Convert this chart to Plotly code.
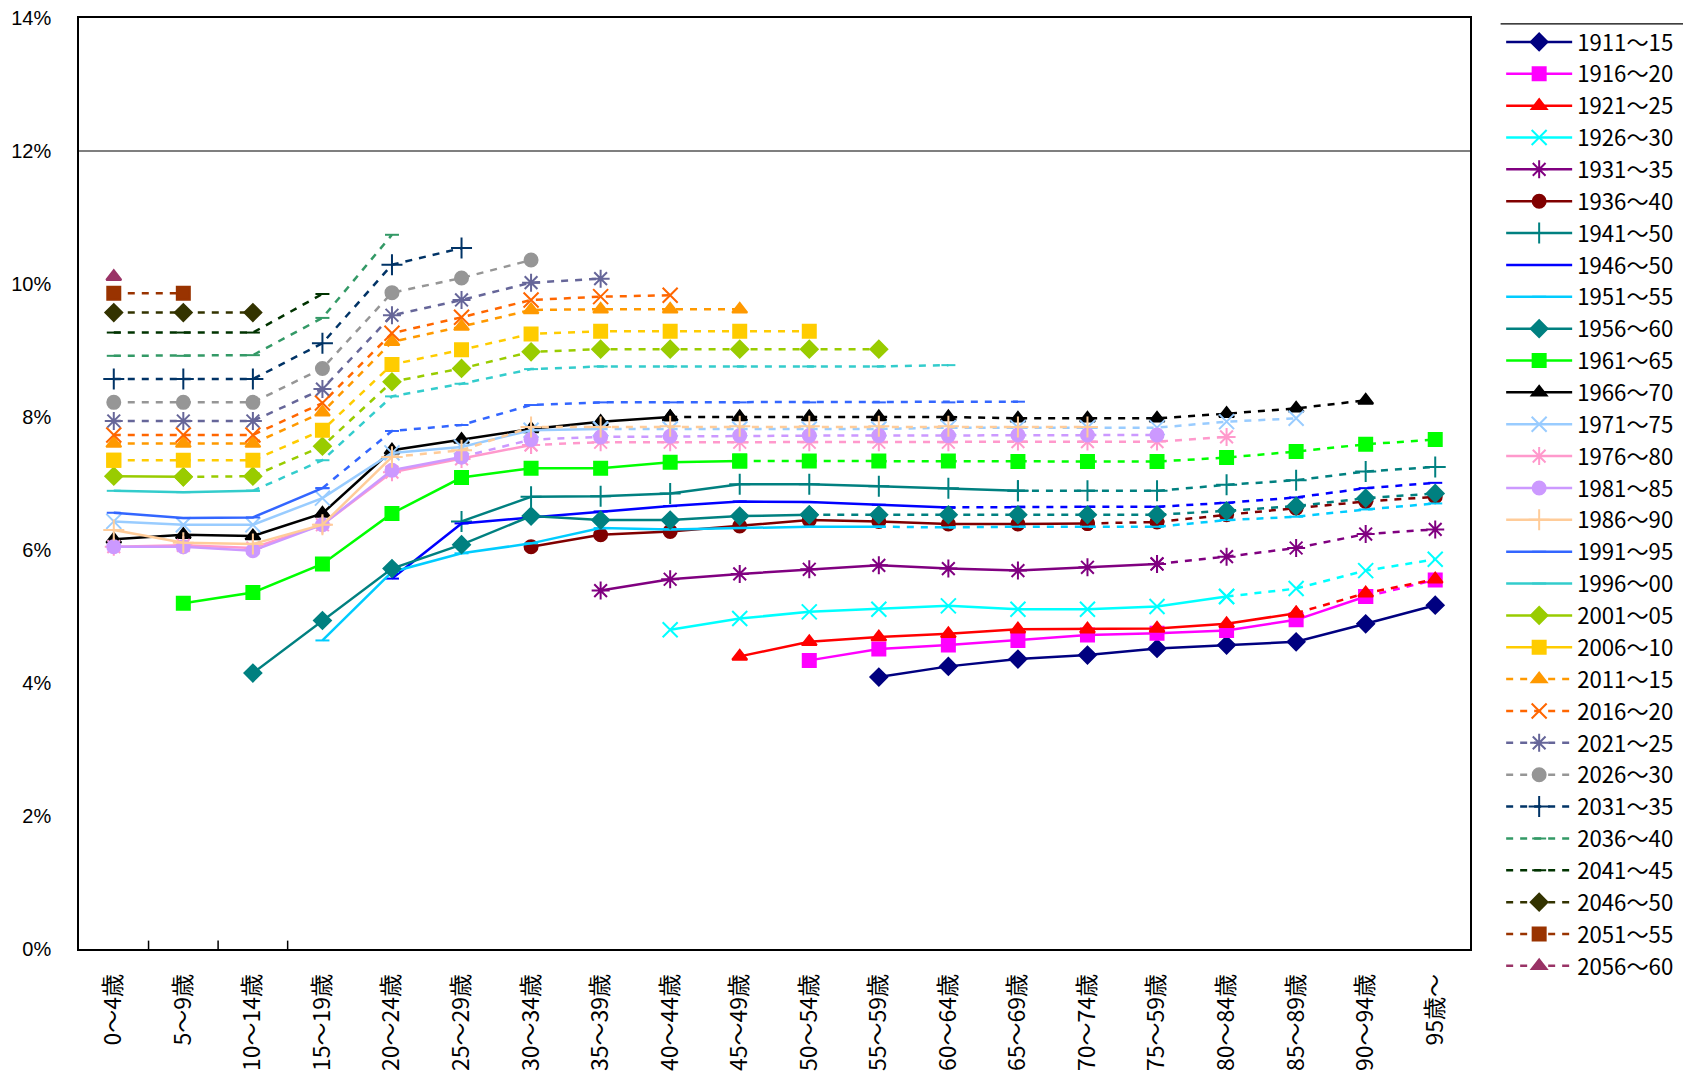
import plotly.graph_objects as go

age_labels = ["0～4歳", "5～9歳", "10～14歳", "15～19歳", "20～24歳", "25～29歳",
              "30～34歳", "35～39歳", "40～44歳", "45～49歳", "50～54歳", "55～59歳",
              "60～64歳", "65～69歳", "70～74歳", "75～59歳", "80～84歳", "85～89歳",
              "90～94歳", "95歳～"]

cohort_labels = ["1911～15", "1916～20", "1921～25", "1926～30", "1931～35", "1936～40",
                 "1941～50", "1946～50", "1951～55", "1956～60", "1961～65", "1966～70",
                 "1971～75", "1976～80", "1981～85", "1986～90", "1991～95", "1996～00",
                 "2001～05", "2006～10", "2011～15", "2016～20", "2021～25", "2026～30",
                 "2031～35", "2036～40", "2041～45", "2046～50", "2051～55", "2056～60"]

# index of the first age group of each cohort, and of the last observed one (-1 = projection only)
start_age = [11, 10, 9, 8, 7, 6, 5, 4, 3, 2, 1, 0, 0, 0, 0, 0, 0, 0, 0, 0,
             0, 0, 0, 0, 0, 0, 0, 0, 0, 0]
last_observed = [19, 18, 17, 16, 15, 14, 13, 12, 11, 10, 9, 8, 7, 6, 5, 4, 3, 2, 1, 0,
                 -1, -1, -1, -1, -1, -1, -1, -1, -1, -1]

# share (%) per age group, from the first age group of the cohort on
c1911 = [4.09, 4.25, 4.36, 4.42, 4.52, 4.57, 4.62, 4.89, 5.17]
c1916 = [4.34, 4.51, 4.57, 4.64, 4.72, 4.75, 4.79, 4.95, 5.30, 5.55]
c1921 = [4.40, 4.62, 4.69, 4.74, 4.81, 4.81, 4.82, 4.89, 5.05, 5.35, 5.56]
c1926 = [4.80, 4.97, 5.07, 5.11, 5.16, 5.11, 5.11, 5.15, 5.30, 5.42, 5.69, 5.86]
c1931 = [5.39, 5.56, 5.64, 5.71, 5.77, 5.72, 5.69, 5.74, 5.79, 5.90, 6.03, 6.24, 6.31]
c1936 = [6.05, 6.23, 6.28, 6.36, 6.45, 6.43, 6.39, 6.39, 6.40, 6.42, 6.53, 6.63, 6.73, 6.80]
c1941 = [6.43, 6.80, 6.81, 6.85, 6.99, 6.99, 6.96, 6.93, 6.89, 6.89, 6.89, 6.98, 7.05, 7.18, 7.25]
c1946 = [5.57, 6.40, 6.49, 6.58, 6.66, 6.73, 6.72, 6.68, 6.64, 6.65, 6.65, 6.65, 6.71, 6.79,
         6.93, 7.01]
c1951 = [4.64, 5.67, 5.95, 6.10, 6.33, 6.31, 6.33, 6.35, 6.35, 6.34, 6.35, 6.35, 6.35, 6.45,
         6.50, 6.61, 6.70]
c1956 = [4.15, 4.94, 5.72, 6.08, 6.51, 6.45, 6.45, 6.51, 6.53, 6.53, 6.53, 6.53, 6.53, 6.53,
         6.59, 6.66, 6.78, 6.85]
c1961 = [5.20, 5.36, 5.79, 6.55, 7.09, 7.23, 7.23, 7.32, 7.34, 7.34, 7.34, 7.34, 7.33, 7.33,
         7.33, 7.39, 7.48, 7.59, 7.66]
c1966 = [6.16, 6.23, 6.21, 6.55, 7.50, 7.66, 7.82, 7.93, 8.00, 8.00, 8.00, 8.00, 8.00, 7.98,
         7.98, 7.98, 8.05, 8.13, 8.25]
c1971 = [6.43, 6.38, 6.38, 6.78, 7.46, 7.55, 7.80, 7.82, 7.82, 7.82, 7.82, 7.82, 7.84, 7.84,
         7.84, 7.84, 7.93, 7.98]
c1976 = [6.05, 6.07, 6.03, 6.38, 7.17, 7.37, 7.58, 7.62, 7.62, 7.62, 7.62, 7.62, 7.62, 7.63,
         7.63, 7.63, 7.70]
c1981 = [6.05, 6.05, 5.99, 6.38, 7.20, 7.40, 7.66, 7.70, 7.71, 7.72, 7.72, 7.72, 7.72, 7.73,
         7.73, 7.73]
c1986 = [6.30, 6.11, 6.09, 6.38, 7.40, 7.50, 7.85, 7.85, 7.86, 7.86, 7.86, 7.86, 7.86, 7.85, 7.85]
c1991 = [6.56, 6.48, 6.49, 6.93, 7.79, 7.88, 8.18, 8.22, 8.22, 8.22, 8.22, 8.22, 8.22, 8.23]
c1996 = [6.89, 6.87, 6.89, 7.35, 8.31, 8.50, 8.72, 8.76, 8.76, 8.76, 8.76, 8.76, 8.78]
c2001 = [7.11, 7.10, 7.11, 7.56, 8.53, 8.73, 8.98, 9.02, 9.02, 9.02, 9.02, 9.02]
c2006 = [7.35, 7.35, 7.35, 7.80, 8.79, 9.01, 9.25, 9.29, 9.29, 9.29, 9.29]
c2011 = [7.60, 7.60, 7.60, 8.07, 9.13, 9.36, 9.61, 9.62, 9.62, 9.62]
c2016 = [7.73, 7.73, 7.73, 8.21, 9.26, 9.50, 9.76, 9.81, 9.83]
c2021 = [7.94, 7.94, 7.94, 8.42, 9.53, 9.76, 10.02, 10.08]
c2026 = [8.22, 8.22, 8.22, 8.73, 9.87, 10.09, 10.36]
c2031 = [8.57, 8.57, 8.57, 9.11, 10.29, 10.54]
c2036 = [8.92, 8.92, 8.93, 9.49, 10.74]
c2041 = [9.27, 9.27, 9.27, 9.85]
c2046 = [9.57, 9.57, 9.57]
c2051 = [9.86, 9.86]
c2056 = [10.11]

cohort_values = [c1911, c1916, c1921, c1926, c1931, c1936, c1941, c1946, c1951, c1956,
                 c1961, c1966, c1971, c1976, c1981, c1986, c1991, c1996, c2001, c2006,
                 c2011, c2016, c2021, c2026, c2031, c2036, c2041, c2046, c2051, c2056]

colors = ["#000080", "#FF00FF", "#FF0000", "#00FFFF", "#800080", "#800000", "#008080",
          "#0000FF", "#00CCFF", "#008080", "#00FF00", "#000000", "#99CCFF", "#FF99CC",
          "#CC99FF", "#FFCC99", "#3366FF", "#33CCCC", "#99CC00", "#FFCC00", "#FF9900",
          "#FF6600", "#666699", "#969696", "#003366", "#339966", "#003300", "#333300",
          "#993300", "#993366"]

symbol_cycle = ["diamond", "square", "triangle-up", "x-thin-open", "asterisk-open", "circle",
                "cross-thin-open", "line-ew-open", "line-ew-open"]

fig = go.Figure()

for i, label in enumerate(cohort_labels):
    vals = cohort_values[i]
    xs = age_labels[start_age[i]:start_age[i] + len(vals)]
    k = last_observed[i] - start_age[i]
    sym = symbol_cycle[i % 9]
    col = colors[i]
    size = 13
    if sym.startswith("line"):
        size = 10
    elif sym in ("x-thin-open", "asterisk-open", "cross-thin-open"):
        size = 15
    marker = dict(symbol=sym, size=size, color=col, line=dict(color=col, width=2))
    if k >= 0:
        fig.add_trace(go.Scatter(
            x=xs[:k + 1], y=vals[:k + 1], name=label, legendgroup=label,
            mode="lines+markers", line=dict(color=col, width=2.5), marker=marker))
    if k < len(vals) - 1:
        j = max(k, 0)
        fig.add_trace(go.Scatter(
            x=xs[j:], y=vals[j:], name=label, legendgroup=label, showlegend=k < 0,
            mode="lines+markers", line=dict(color=col, width=2.5, dash="7px,7px"),
            marker=marker))

# small inner tick marks between the first age groups
for b in (0.5, 1.5, 2.5):
    fig.add_shape(type="line", xref="x", yref="paper", x0=b, x1=b, y0=0, y1=0.009,
                  line=dict(color="black", width=1.5))

# horizontal rule at 12%
fig.add_shape(type="line", xref="paper", yref="y", x0=0, x1=1, y0=12, y1=12,
              line=dict(color="black", width=1.2))

# rule above the legend
fig.add_shape(type="line", xref="paper", yref="paper", x0=1.022, x1=1.158, y0=0.9936, y1=0.9936,
              line=dict(color="black", width=1.2))

# the page body adds 8px around the figure, so the figure is 16px smaller than the window
fig.update_layout(
    width=1675, height=1072,
    margin=dict(l=71, r=213, t=10, b=131, autoexpand=False),
    plot_bgcolor="white", paper_bgcolor="white",
    font=dict(family="Noto Sans CJK JP", size=20, color="black"),
    showlegend=True,
    legend=dict(x=1.0224, y=0.9968, xanchor="left", yanchor="top", maxheight=1070,
                font=dict(family="Noto Sans CJK JP", size=22.2),
                itemwidth=66, tracegroupgap=0, bgcolor="rgba(0,0,0,0)"),
    xaxis=dict(type="category", categoryorder="array", categoryarray=age_labels,
               range=[-0.5, 19.5], showline=True, linecolor="black", linewidth=1.5,
               mirror=True, showgrid=False, ticks="", tickangle=-90, automargin=False,
               tickfont=dict(family="Noto Sans CJK JP", size=23),
               ticklabelstandoff=14, ticklabeloverflow="allow"),
    yaxis=dict(range=[0, 14], dtick=2, ticksuffix="%", showline=True, linecolor="black",
               linewidth=1.5, mirror=True, showgrid=False, ticks="", zeroline=False,
               automargin=False, tickfont=dict(family="Liberation Sans", size=20),
               ticklabelstandoff=22, ticklabeloverflow="allow"),
)

fig.write_html("out.html")
